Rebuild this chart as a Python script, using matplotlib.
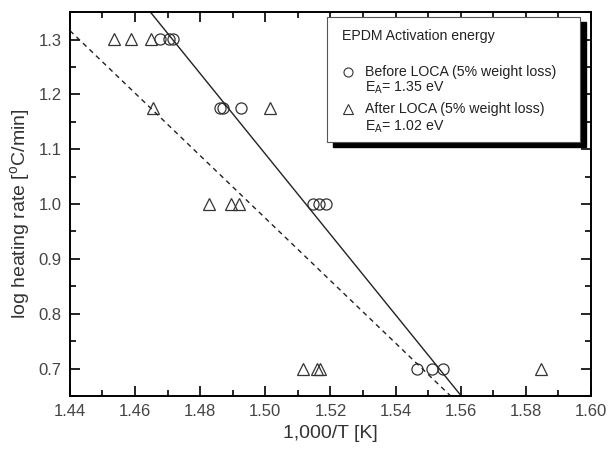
import matplotlib
matplotlib.use('Agg')
import matplotlib.pyplot as plt
import numpy as np
from matplotlib.patches import Rectangle
from matplotlib.ticker import MultipleLocator

plt.rcParams['font.family'] = ['Liberation Sans', 'DejaVu Sans']
plt.rcParams['mathtext.fontset'] = 'custom'
plt.rcParams['mathtext.rm'] = 'Liberation Sans'
plt.rcParams['mathtext.it'] = 'Liberation Sans'

# before LOCA (circles)
x_before = [1.4676, 1.4705, 1.4715,
            1.4862, 1.4870, 1.4925,
            1.5146, 1.5165, 1.5186,
            1.5466, 1.5512, 1.5546]
y_before = [1.301, 1.301, 1.301,
            1.176, 1.176, 1.176,
            1.000, 1.000, 1.000,
            0.699, 0.699, 0.699]

# after LOCA (triangles)
x_after = [1.4535, 1.4587, 1.4649,
           1.4655, 1.5014,
           1.4827, 1.4894, 1.4919,
           1.5116, 1.5159, 1.5168, 1.5847]
y_after = [1.301, 1.301, 1.301,
           1.176, 1.176,
           1.000, 1.000, 1.000,
           0.699, 0.699, 0.699, 0.699]

fig = plt.figure(figsize=(6.08, 4.49), dpi=100)
ax = fig.add_axes([0.115, 0.118, 0.857, 0.855])

col = '#333333'
ax.plot(x_before, y_before, 'o', mfc='none', mec=col, ms=8, mew=0.9, ls='none')
ax.plot(x_after, y_after, '^', mfc='none', mec=col, ms=8.5, mew=0.9, ls='none')

# linear fits
xx = np.array([1.43, 1.61])
pb = np.polyfit(x_before, y_before, 1)
pa = np.polyfit(x_after, y_after, 1)
ax.plot(xx, np.polyval(pb, xx), color='#222222', lw=1.0)
ax.plot(xx, np.polyval(pa, xx), color='#222222', lw=1.0, ls=(0, (3.5, 3)))

ax.set_xlim(1.44, 1.60)
ax.set_ylim(0.65, 1.35)
ax.xaxis.set_major_locator(MultipleLocator(0.02))
ax.xaxis.set_minor_locator(MultipleLocator(0.01))
ax.yaxis.set_major_locator(MultipleLocator(0.1))
ax.yaxis.set_minor_locator(MultipleLocator(0.05))
ax.set_xticklabels([f'{v:.2f}' for v in ax.get_xticks()])
ax.set_yticklabels([f'{v:.1f}' for v in ax.get_yticks()])
ax.tick_params(which='both', direction='in', top=True, right=True, width=1.2,
               labelsize=12, labelcolor='#444444', pad=6)
ax.tick_params(which='major', length=7)
ax.tick_params(which='minor', length=4)
for s in ax.spines.values():
    s.set_linewidth(1.4)

ax.set_xlabel('1,000/T [K]', fontsize=14, color='#333333')
ax.set_ylabel('log heating rate [$^{\\rm o}$C/min]', fontsize=14, color='#333333')
ax.yaxis.set_label_coords(-0.072, 0.474)

# legend box with shadow
ax.add_patch(Rectangle((0.505, 0.648), 0.486, 0.326, transform=ax.transAxes,
                       facecolor='black', edgecolor='black', zorder=5, clip_on=False))
ax.add_patch(Rectangle((0.493, 0.661), 0.486, 0.326, transform=ax.transAxes,
                       facecolor='white', edgecolor='#555555', lw=0.8, zorder=6, clip_on=False))
tc = '#222222'
fs = 10.2
ax.text(0.522, 0.938, 'EPDM Activation energy', transform=ax.transAxes,
        fontsize=fs, color=tc, va='center', zorder=7)
ax.plot([0.534], [0.844], 'o', mfc='none', mec=col, ms=6.5, mew=0.8,
        transform=ax.transAxes, zorder=7, clip_on=False)
ax.text(0.566, 0.844, 'Before LOCA (5% weight loss)', transform=ax.transAxes,
        fontsize=fs, color=tc, va='center', zorder=7)
ax.text(0.566, 0.802, 'E$_{\\rm A}$= 1.35 eV', transform=ax.transAxes,
        fontsize=fs, color=tc, va='center', zorder=7)
ax.plot([0.534], [0.747], '^', mfc='none', mec=col, ms=7, mew=0.8,
        transform=ax.transAxes, zorder=7, clip_on=False)
ax.text(0.566, 0.747, 'After LOCA (5% weight loss)', transform=ax.transAxes,
        fontsize=fs, color=tc, va='center', zorder=7)
ax.text(0.566, 0.702, 'E$_{\\rm A}$= 1.02 eV', transform=ax.transAxes,
        fontsize=fs, color=tc, va='center', zorder=7)

fig.savefig('out.png', dpi=100)
